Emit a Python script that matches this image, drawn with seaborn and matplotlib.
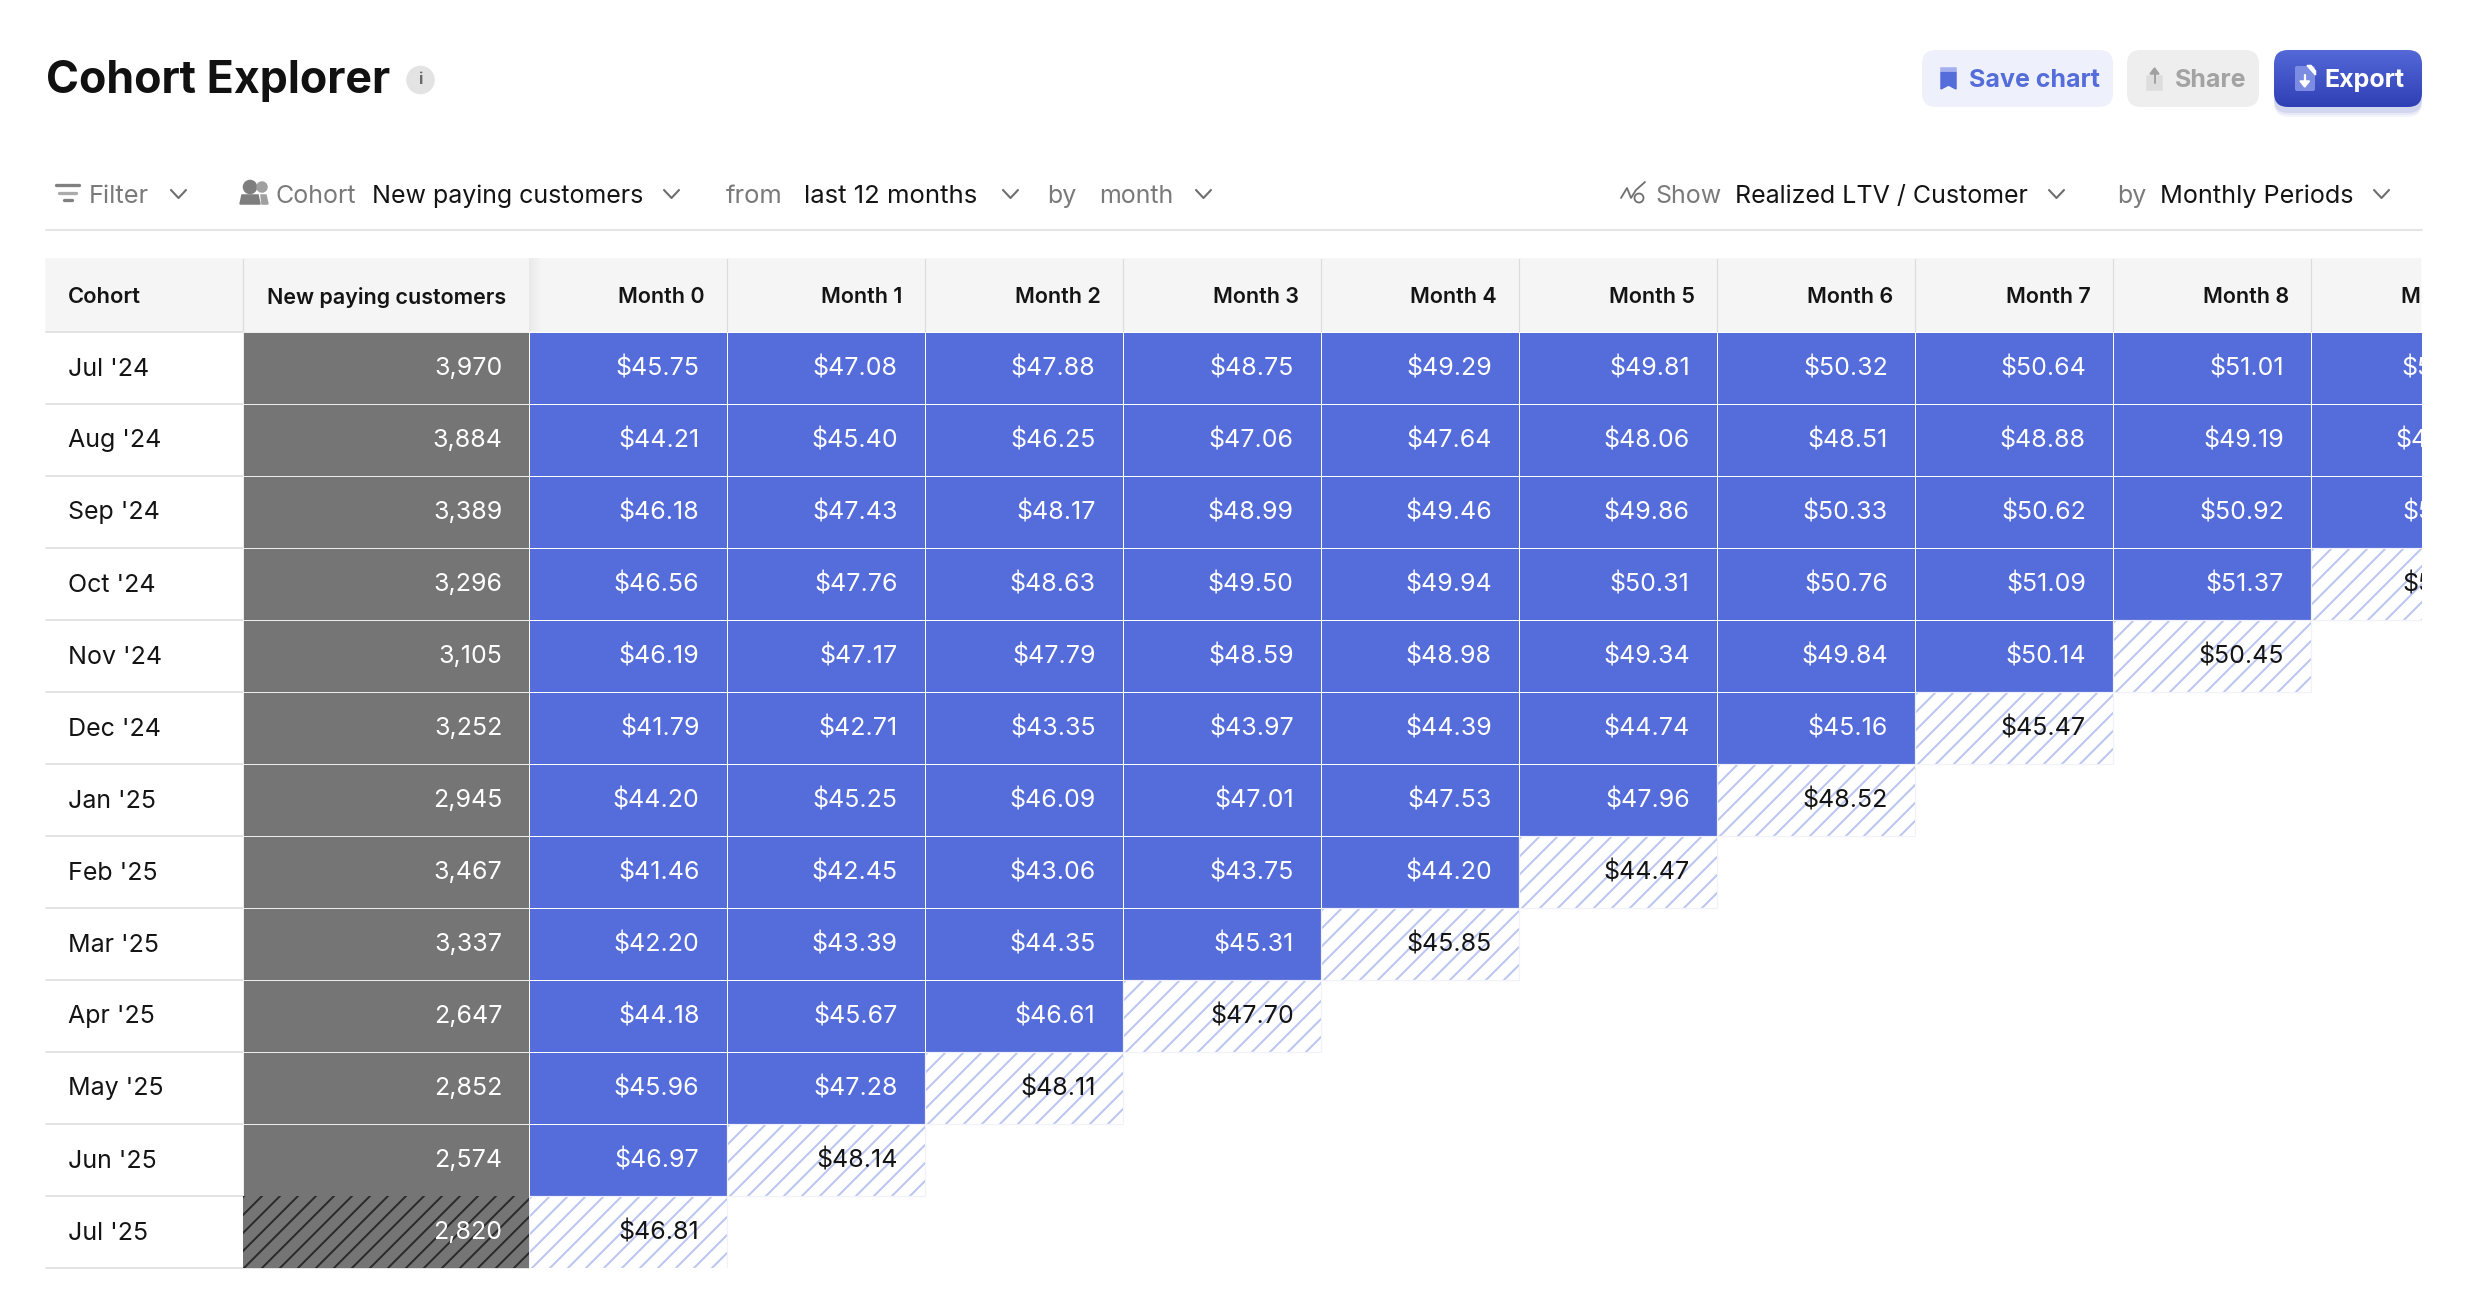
# Cohort Explorer table: realized LTV per customer by monthly period
import numpy as np
import pandas as pd
import seaborn as sns
import matplotlib.pyplot as plt
from matplotlib.colors import ListedColormap
from matplotlib.patches import FancyBboxPatch, Rectangle, Circle, Polygon

cohorts = ["Jul '24", "Aug '24", "Sep '24", "Oct '24", "Nov '24", "Dec '24", "Jan '25",
           "Feb '25", "Mar '25", "Apr '25", "May '25", "Jun '25", "Jul '25"]
customers = [3970, 3884, 3389, 3296, 3105, 3252, 2945, 3467, 3337, 2647, 2852, 2574, 2820]
months = ["Month %d" % m for m in range(10)]

# Month 9 is cut off in the picture, those values are estimates
ltv_jul_24 = [45.75, 47.08, 47.88, 48.75, 49.29, 49.81, 50.32, 50.64, 51.01, 51.34]
ltv_aug_24 = [44.21, 45.40, 46.25, 47.06, 47.64, 48.06, 48.51, 48.88, 49.19, 49.48]
ltv_sep_24 = [46.18, 47.43, 48.17, 48.99, 49.46, 49.86, 50.33, 50.62, 50.92, 51.20]
ltv_oct_24 = [46.56, 47.76, 48.63, 49.50, 49.94, 50.31, 50.76, 51.09, 51.37, 51.62]
ltv_nov_24 = [46.19, 47.17, 47.79, 48.59, 48.98, 49.34, 49.84, 50.14, 50.45]
ltv_dec_24 = [41.79, 42.71, 43.35, 43.97, 44.39, 44.74, 45.16, 45.47]
ltv_jan_25 = [44.20, 45.25, 46.09, 47.01, 47.53, 47.96, 48.52]
ltv_feb_25 = [41.46, 42.45, 43.06, 43.75, 44.20, 44.47]
ltv_mar_25 = [42.20, 43.39, 44.35, 45.31, 45.85]
ltv_apr_25 = [44.18, 45.67, 46.61, 47.70]
ltv_may_25 = [45.96, 47.28, 48.11]
ltv_jun_25 = [46.97, 48.14]
ltv_jul_25 = [46.81]
# rows whose last visible value is a partial (still open) period
partial_rows = [3, 4, 5, 6, 7, 8, 9, 10, 11, 12]

BLUE = "#556CDB"
GRAY = "#757575"
HEADER = "#F5F5F5"
RULE = "#E2E2E2"
HATCH = "#BAC5F1"
INK = "#141414"
MUTED = "#7A7A7A"

W, H, DPI = 2472, 1312, 108
TOP, ROW_H, COL_W = 331.5, 72, 198.05
LEFT_V = 528.5
RIGHT = 2422
CELL_SIZE = 25


def fs(px):
    return px * 72 / DPI


sns.set_theme(style="white")
plt.rcParams["font.family"] = ["Inter", "DejaVu Sans"]
plt.rcParams["hatch.linewidth"] = 1.3

ltv = pd.DataFrame([ltv_jul_24, ltv_aug_24, ltv_sep_24, ltv_oct_24, ltv_nov_24, ltv_dec_24, ltv_jan_25,
                    ltv_feb_25, ltv_mar_25, ltv_apr_25, ltv_may_25, ltv_jun_25, ltv_jul_25],
                   index=cohorts, columns=months)
cust = pd.DataFrame({"New paying customers": customers}, index=cohorts)

partial = np.zeros(ltv.shape, dtype=bool)
for r in partial_rows:
    partial[r, ltv.iloc[r].notna().sum() - 1] = True

fig = plt.figure(figsize=(W / DPI, H / DPI), dpi=DPI, facecolor="white")


def px_axes(x0, y0, x1, y1, **kw):
    return fig.add_axes([x0 / W, 1 - y1 / H, (x1 - x0) / W, (y1 - y0) / H], **kw)


# page chrome in pixel coordinates
ui = px_axes(0, 0, W, H, zorder=0)
ui.set_axis_off()


def label(x, y, s, size=25, color=INK, weight="normal", ha="left"):
    ui.text(x, y, s, fontsize=fs(size), color=color, fontweight=weight, ha=ha, va="center_baseline")


def chevron(x, y):
    ui.plot([x, x + 7.5, x + 15], [y - 4, y + 4, y - 4], color="#6E6E6E", lw=1.4,
            solid_capstyle="round", solid_joinstyle="round")


def button(x0, x1, face):
    b = FancyBboxPatch((x0 + 14, 64), x1 - x0 - 28, 29, boxstyle="round,pad=14,rounding_size=14",
                       facecolor=face, edgecolor="none")
    ui.add_patch(b)
    return b


label(46, 77, "Cohort Explorer", 44.7, "#111111", "bold")
ui.add_patch(Circle((420.5, 80), 13.5, color="#E3E3E3"))
ui.text(420.5, 80, "i", fontsize=fs(16), color="#6A6A6A", ha="center", va="center", fontweight="bold")

# buttons
button(1922, 2113, "#EEF1FC")
ui.add_patch(Rectangle((1941, 67.5), 15, 3.5, color="#A3AFEE"))
ui.add_patch(Polygon([(1941, 72.5), (1956, 72.5), (1956, 89), (1948.5, 85), (1941, 89)], color=BLUE))
label(1969, 78, "Save chart", 25, BLUE, "bold")
button(2127, 2259, "#EEEEEE")
ui.add_patch(Rectangle((2147, 76), 15, 14, color="#DDDDDD"))
ui.plot([2154.5, 2154.5], [69, 83], color="#A0A0A0", lw=1.3)
ui.add_patch(Polygon([(2150, 74), (2154.5, 68), (2159, 74)], color="#A0A0A0"))
label(2175, 78, "Share", 25, "#A3A3A3", "bold")
# soft shadow below Export
for grow, alpha in [(6, 0.05), (4, 0.07), (2, 0.10)]:
    ui.add_patch(FancyBboxPatch((2288, 68), 120, 29 + grow, boxstyle="round,pad=14,rounding_size=14",
                                facecolor="#2F40B5", edgecolor="none", alpha=alpha))
exp = button(2274, 2422, "none")
grad = ui.imshow(np.linspace(0, 1, 64).reshape(-1, 1), extent=(2274, 2422, 107, 50), aspect="auto",
                 cmap=ListedColormap(sns.blend_palette(["#5468D8", "#2F40B5"], 64)), zorder=1)
grad.set_clip_path(exp)
ui.add_patch(FancyBboxPatch((2297, 68), 16, 21, boxstyle="round,pad=2,rounding_size=2",
                            facecolor="#7C8CE2", edgecolor="none", zorder=2))
ui.add_patch(Polygon([(2307, 65.5), (2311, 65.5), (2315.5, 71), (2315.5, 75)], color="white", zorder=3))
ui.plot([2304.7, 2304.7], [75, 83], color="white", lw=1.5, zorder=3)
ui.add_patch(Polygon([(2300, 81), (2304.7, 87), (2309.5, 81)], color="white", zorder=3))
ui.text(2324.5, 78, "Export", fontsize=fs(25), color="white", fontweight="bold", va="center_baseline", zorder=3)

# filter bar
for x0, x1, y, col in [(56, 79, 185, "#808080"), (59, 76, 192.5, "#ABABAB"), (64, 72, 200, "#808080")]:
    ui.plot([x0, x1], [y, y], color=col, lw=2.2, solid_capstyle="round")
label(89, 194, "Filter", 25.5, MUTED)
chevron(171, 194)
ui.add_patch(Circle((250, 187), 6.5, color="#7E7E7E"))
ui.add_patch(Circle((262, 187), 5, color="#A0A0A0"))
ui.add_patch(Polygon([(240, 204), (242, 195), (258, 195), (260, 204)], color="#7E7E7E"))
ui.add_patch(Polygon([(262, 204), (261, 195), (266, 195), (268, 204)], color="#A0A0A0"))
label(275.5, 194, "Cohort", 25, MUTED)
label(372, 194, "New paying customers")
chevron(664, 194)
label(726, 194, "from", 25.5, MUTED)
label(803.5, 194, "last 12 months", 25.7)
chevron(1003, 194)
label(1047, 194, "by", 25, MUTED)
label(1099, 194, "month", 25, MUTED)
chevron(1196, 194)
ui.plot([1621, 1627, 1631, 1636, 1645], [198, 188, 198, 190, 182], color="#6E6E6E", lw=1.2)
ui.add_patch(Circle((1639, 198), 4.5, fill=False, edgecolor="#6E6E6E", lw=1.2))
label(1655, 194, "Show", 25, MUTED)
label(1735, 194, "Realized LTV / Customer")
chevron(2049, 194)
label(2117, 194, "by", 25, MUTED)
label(2160, 194, "Monthly Periods", 25.2)
chevron(2374, 194)
ui.plot([46, RIGHT], [230, 230], color=RULE, lw=1.2)

# header row
ui.add_patch(Rectangle((46, 259), RIGHT - 46, TOP - 259, color=HEADER))
shadow = ui.imshow(np.linspace(0, 1, 16).reshape(1, -1), extent=(LEFT_V, LEFT_V + 12, TOP, 259), aspect="auto",
                   cmap=ListedColormap(sns.blend_palette(["#E9E9E9", HEADER], 16)), zorder=1)
label(68, 295, "Cohort", 22, INK, "semibold")
label(506, 295, cust.columns[0], 21.5, INK, "semibold", ha="right")
ui.plot([243.3, 243.3], [259, TOP], color="#DCDCDC", lw=0.8)
for c, name in enumerate(months):
    x1 = LEFT_V + (c + 1) * COL_W
    ui.plot([x1, x1], [259, TOP], color="#DCDCDC", lw=0.8, zorder=2)
    ui.text(x1 - 22, 295, name, fontsize=fs(21.5), color=INK, fontweight="semibold",
            ha="right", va="center_baseline", zorder=3)
ui.add_patch(Rectangle((RIGHT, 255), W - RIGHT, 80, color="white", zorder=4))

# cohort column and row rules
for r, name in enumerate(cohorts):
    y = TOP + r * ROW_H
    label(68, y + ROW_H / 2 - 1, name, CELL_SIZE)
    ui.plot([46, 243.3], [y, y], color=RULE, lw=1.2)
ui.plot([46, LEFT_V], [TOP + 13 * ROW_H] * 2, color=RULE, lw=1.2)

ui.set_xlim(0, W)
ui.set_ylim(H, 0)

# customers column
ax_c = px_axes(243.3, TOP, LEFT_V, TOP + 13 * ROW_H, zorder=1)
sns.heatmap(cust, ax=ax_c, cmap=ListedColormap([GRAY]), cbar=False, linewidths=0.6, linecolor="#EDEDED",
            xticklabels=False, yticklabels=False)
ax_c.set_xlabel("")
ax_c.set_ylabel("")
ax_c.add_patch(Rectangle((0, 12), 1, 1, facecolor=GRAY, edgecolor="#2A2A2A", hatch="//", lw=0))
for r, v in enumerate(customers):
    ax_c.text(1 - 26 / 285, r + 0.486, f"{v:,}", color="white", fontsize=fs(CELL_SIZE), ha="right", va="center_baseline")

# LTV cells, solid ones through the heatmap and open periods hatched on top
ax_v = px_axes(LEFT_V, TOP, RIGHT, TOP + 13 * ROW_H, zorder=1)
sns.heatmap(ltv, ax=ax_v, mask=ltv.isna().to_numpy() | partial, cmap=ListedColormap([BLUE]), cbar=False,
            linewidths=0.6, linecolor="white", xticklabels=False, yticklabels=False)
ax_v.set_xlabel("")
ax_v.set_ylabel("")
ax_v.patch.set_alpha(0)
for r, c in zip(*np.nonzero(partial)):
    ax_v.add_patch(Rectangle((c, r), 1, 1, facecolor="white", edgecolor=HATCH, hatch="//", lw=0))
    ax_v.add_patch(Rectangle((c, r), 1, 1, fill=False, edgecolor="#F0F1FA", lw=0.8))
for r in range(ltv.shape[0]):
    for c in range(ltv.shape[1]):
        v = ltv.iat[r, c]
        if not np.isnan(v):
            ax_v.text(c + 1 - 27 / COL_W, r + 0.486, f"${v:.2f}", color=INK if partial[r, c] else "white",
                      fontsize=fs(CELL_SIZE), ha="right", va="center_baseline", clip_on=True)
ax_v.set_xlim(0, (RIGHT - LEFT_V) / COL_W)

fig.savefig("out.png", dpi=DPI)
